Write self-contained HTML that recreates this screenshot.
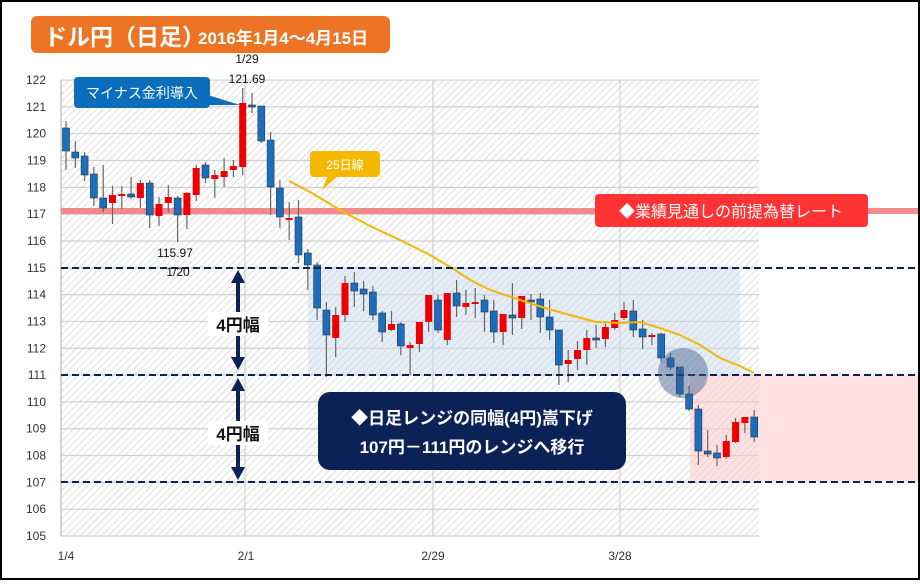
<!DOCTYPE html><html><head><meta charset="utf-8"><style>
body{margin:0;width:920px;height:580px;overflow:hidden;background:#fff;font-family:"Liberation Sans","Noto Sans CJK JP",sans-serif}
</style></head><body>
<svg id="s" width="920" height="580" xmlns="http://www.w3.org/2000/svg" font-family="Liberation Sans, Noto Sans CJK JP, sans-serif">
<defs>
<pattern id="h" width="5" height="5" patternUnits="userSpaceOnUse" patternTransform="rotate(45)"><rect width="5" height="5" fill="#fff"/><line x1="0" y1="0" x2="0" y2="5" stroke="#d4d4d4" stroke-width="1.5"/></pattern>
</defs>
<rect x="0" y="0" width="920" height="580" fill="#fff"/>
<rect x="61" y="80" width="698" height="456" fill="url(#h)"/>
<g id="grid" stroke="#d0d0d0" stroke-width="1.2"></g>
<rect x="308" y="268" width="432" height="107" fill="#c5daee" opacity="0.45"/>
<rect x="690" y="375" width="230" height="107" fill="#ffc8c8" opacity="0.55"/>
<rect x="61" y="208" width="859" height="6" fill="#f07070" opacity="0.8"/>
<g id="c"></g>
<polyline fill="none" stroke="#f2b705" stroke-width="2" points="289,181 310,192 340,210 370,226 400,240 430,255 452,268 470,280 490,290 520,300 545,308 570,315 596,322 620,323 640,322 660,328 680,335 700,345 720,358 740,366 754,373"/>
<g stroke="#0b2257" stroke-width="2" stroke-dasharray="7,4"><line x1="61" y1="268" x2="920" y2="268"/><line x1="61" y1="375" x2="920" y2="375"/><line x1="61" y1="482" x2="920" y2="482"/></g>
<circle cx="683" cy="373" r="25" fill="#3a5a8c" opacity="0.45"/>
<g id="yl" font-size="12" fill="#333" text-anchor="end"></g>
<g font-size="12" fill="#333" text-anchor="middle"><text x="66" y="560">1/4</text><text x="246" y="560">2/1</text><text x="433" y="560">2/29</text><text x="620" y="560">3/28</text></g>
<g font-size="12" fill="#111" text-anchor="middle"><text x="247" y="63">1/29</text><text x="247" y="83">121.69</text><text x="175" y="257">115.97</text><text x="178" y="276">1/20</text></g>
<rect x="31" y="16" width="359" height="37" rx="6" fill="#ec7424"/>
<text x="44" y="45" font-size="23" font-weight="bold" fill="#fff">ドル円（日足）</text>
<text x="198" y="44" font-size="17" font-weight="bold" fill="#fff">2016年1月4～4月15日</text>
<polygon points="190,92 198,92 240,105 190,105" fill="#0a6ebd"/>
<rect x="74" y="77" width="136" height="31" rx="4" fill="#0a6ebd"/>
<text x="142" y="98" font-size="14" fill="#fff" text-anchor="middle">マイナス金利導入</text>
<polygon points="330,170 345,170 322,190" fill="#f5b800"/>
<rect x="310" y="151" width="70" height="26" rx="4" fill="#f5b800"/>
<text x="345" y="169" font-size="12" fill="#fff" text-anchor="middle">25日線</text>
<rect x="595" y="194" width="273" height="33" rx="4" fill="#ff3333"/>
<text x="731" y="217" font-size="16" fill="#fff" text-anchor="middle">◆業績見通しの前提為替レート</text>
<rect x="318" y="392" width="308" height="78" rx="12" fill="#0b2257"/>
<text x="472" y="424" font-size="17" font-weight="bold" fill="#fff" text-anchor="middle">◆日足レンジの同幅(4円)嵩下げ</text>
<text x="472" y="453" font-size="17" font-weight="bold" fill="#fff" text-anchor="middle">107円－111円のレンジへ移行</text>
<g fill="#0b2257">
<polygon points="238,270 231,283 236,283 236,357 231,357 238,370 245,357 240,357 240,283 245,283"/>
<polygon points="238,378 231,391 236,391 236,467 231,467 238,480 245,467 240,467 240,391 245,391"/>
</g>
<rect x="208" y="312" width="60" height="24" fill="#fff"/><text x="238" y="331" font-size="17" font-weight="bold" text-anchor="middle" fill="#111">4円幅</text>
<rect x="208" y="421" width="60" height="24" fill="#fff"/><text x="238" y="440" font-size="17" font-weight="bold" text-anchor="middle" fill="#111">4円幅</text>
<rect x="1" y="1" width="918" height="578" fill="none" stroke="#000" stroke-width="2"/>
</svg>
<script>
var NS="http://www.w3.org/2000/svg";
function el(p,t,a,txt){var e=document.createElementNS(NS,t);for(var k in a)e.setAttribute(k,a[k]);if(txt)e.textContent=txt;document.getElementById(p).appendChild(e);}
for(var v=105;v<=122;v++){var y=536-(v-105)*26.82;el("grid","line",{x1:61,x2:759,y1:y,y2:y});el("yl","text",{x:46,y:y+4},String(v));}
[245,433,620].forEach(function(x){el("grid","line",{x1:x,x2:x,y1:80,y2:536});});
el("grid","line",{x1:61,x2:61,y1:80,y2:536,stroke:"#bbb"});
var d=[[128,151,121,170,0],[152,158,141,168,0],[156,175,152,181,0],[174,198,167,206,0],[198,208,165,212,0],[195,203,186,224,1],[194,196,186,209,1],[194,197,177,199,0],[183,198,180,208,1],[183,215,180,228,0],[204,216,197,226,1],[197,203,185,212,1],[198,215,196,242,0],[193,215,192,229,1],[168,195,165,201,1],[165,178,162,183,0],[175,179,170,198,1],[171,177,158,187,1],[166,170,160,177,1],[103,167,88,175,1],[105,106,93,113,0],[106,141,106,143,0],[140,187,132,215,0],[188,217,180,228,0],[218,220,202,240,1],[217,255,200,263,0],[253,265,249,290,0],[265,308,262,320,0],[310,335,302,377,0],[315,338,307,357,1],[283,315,276,322,1],[283,291,272,307,0],[289,294,281,311,0],[292,315,286,320,0],[313,332,311,342,0],[324,330,311,331,1],[324,346,322,355,0],[345,348,342,375,1],[322,344,322,352,1],[295,322,295,332,1],[300,330,295,333,0],[293,340,293,345,1],[293,306,280,317,0],[303,307,290,315,1],[302,304,288,318,1],[300,312,295,332,0],[311,332,300,343,0],[314,332,314,345,1],[315,318,283,335,0],[296,318,296,329,1],[300,302,294,320,0],[299,317,293,333,0],[317,330,300,340,0],[330,365,330,385,0],[360,364,350,382,1],[350,359,341,370,1],[338,350,330,365,1],[338,340,325,348,0],[327,339,321,347,1],[320,328,313,330,1],[310,318,302,320,1],[311,330,300,337,0],[329,337,320,349,0],[335,337,333,345,1],[334,358,333,362,0],[358,367,353,370,0],[367,394,367,397,0],[394,409,386,411,0],[409,451,405,465,0],[451,454,430,457,0],[453,458,445,466,0],[441,457,435,459,1],[422,442,418,443,1],[417,423,417,433,1],[417,437,410,442,0]];
d.forEach(function(c,i){var x=66+9.3*i;el("c","line",{x1:x,x2:x,y1:c[2],y2:c[3],stroke:"#666","stroke-width":1.2});
el("c","rect",{x:x-3.5,y:c[0],width:7,height:Math.max(2,c[1]-c[0]),fill:c[4]?"#ee0000":"#1a6fbd",stroke:c[4]?"none":"#334",'stroke-width':0.6});});
</script>
</body></html>
